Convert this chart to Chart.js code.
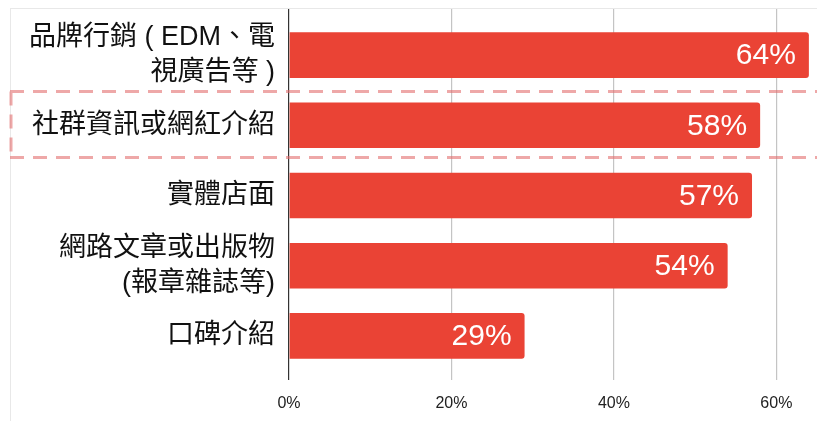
<html>
<head>
  <meta charset="utf-8">
  <title>通路比例</title>
  <script src="https://cdn.jsdelivr.net/npm/chart.js"></script>
  <style>
    html, body { margin: 0; padding: 0; background: #ffffff; }
    body { width: 817px; height: 421px; position: relative; overflow: hidden; }
    #card {
      position: absolute; left: 10px; top: 8px; width: 830px; height: 430px;
      border: 1px solid #e8e8e8; box-sizing: border-box;
    }
    #wrap { position: absolute; left: 0; top: 0; width: 817px; height: 421px; }
  </style>
</head>
<body>
  <div id="card"></div>
  <div id="wrap"><canvas id="chart"></canvas></div>

  <script>
    // categories (multi-line labels) and values in %
    const categories = [
      ['品牌行銷 ( EDM、電', '視廣告等 )'],
      '社群資訊或網紅介紹',
      '實體店面',
      ['網路文章或出版物', '(報章雜誌等)'],
      '口碑介紹'
    ];
    const values = [64, 58, 57, 54, 29];
    const xTicks = [0, 20, 40, 60];
    const highlightIndex = 1;

    const barRed = '#ea4335';
    const latin = '"Liberation Sans", Arial, "Noto Sans CJK TC", sans-serif';

    // grid line colour: dark at 0, light gray elsewhere
    const gridColor = c => (c.tick && c.tick.value === 0) ? '#333333' : '#c4c4c4';

    // white value labels inside the bar ends
    const valueLabels = {
      id: 'valueLabels',
      afterDatasetsDraw(chart) {
        const g = chart.ctx;
        const meta = chart.getDatasetMeta(0);
        g.save();
        g.font = '30px ' + latin;
        g.fillStyle = '#ffffff';
        g.textAlign = 'right';
        g.textBaseline = 'middle';
        meta.data.forEach((bar, i) => {
          g.fillText(values[i] + '%', bar.x - 13, bar.y + 1);
        });
        g.restore();
      }
    };

    // dashed highlight box around one category
    const highlightBox = {
      id: 'highlightBox',
      afterDraw(chart) {
        const g = chart.ctx;
        const y = chart.scales.y;
        const band = y.getPixelForValue(1) - y.getPixelForValue(0);
        const cy = y.getPixelForValue(highlightIndex);
        const top = cy - band * 0.48;
        const bot = cy + band * 0.46;
        g.save();
        g.strokeStyle = 'rgba(226, 110, 110, 0.6)';
        g.lineWidth = 3;
        g.setLineDash([14, 9]);
        g.beginPath();
        g.moveTo(10, top); g.lineTo(chart.width, top);
        g.moveTo(10, bot); g.lineTo(chart.width, bot);
        g.moveTo(11, top); g.lineTo(11, bot);
        g.stroke();
        g.restore();
      }
    };

    new Chart(document.getElementById('chart'), {
      type: 'bar',
      data: {
        labels: categories,
        datasets: [{
          data: values,
          backgroundColor: barRed,
          borderRadius: 3,
          borderSkipped: 'start',
          barPercentage: 0.65,
          categoryPercentage: 1
        }]
      },
      options: {
        indexAxis: 'y',
        responsive: true,
        maintainAspectRatio: false,
        animation: false,
        layout: { padding: { top: 9, bottom: 8, left: 0, right: 0 } },
        plugins: { legend: { display: false }, tooltip: { enabled: false } },
        scales: {
          x: {
            min: 0, max: 65,
            afterBuildTicks: s => { s.ticks = xTicks.map(v => ({ value: v })); },
            afterFit: s => { s.height = 42; },
            ticks: {
              callback: v => v + '%',
              color: '#222222',
              font: { size: 16, family: latin },
              padding: 14
            },
            grid: { color: gridColor, lineWidth: 1.2, tickLength: 9 },
            border: { display: false }
          },
          x2: {
            position: 'top',
            min: 0, max: 65,
            afterBuildTicks: s => { s.ticks = xTicks.map(v => ({ value: v })); },
            afterFit: s => { s.height = 11; },
            ticks: { display: false },
            grid: { color: gridColor, lineWidth: 1.2, tickLength: 11, drawOnChartArea: false },
            border: { display: false }
          },
          y: {
            afterFit: s => { s.width = 289; s.paddingTop = 0; s.paddingBottom = 0; },
            ticks: {
              autoSkip: false,
              color: '#111111',
              font: { size: 27, family: latin, lineHeight: 1.3 },
              padding: 14
            },
            grid: { display: false, drawTicks: false },
            border: { display: false }
          }
        }
      },
      plugins: [valueLabels, highlightBox]
    });
  </script>
</body>
</html>
